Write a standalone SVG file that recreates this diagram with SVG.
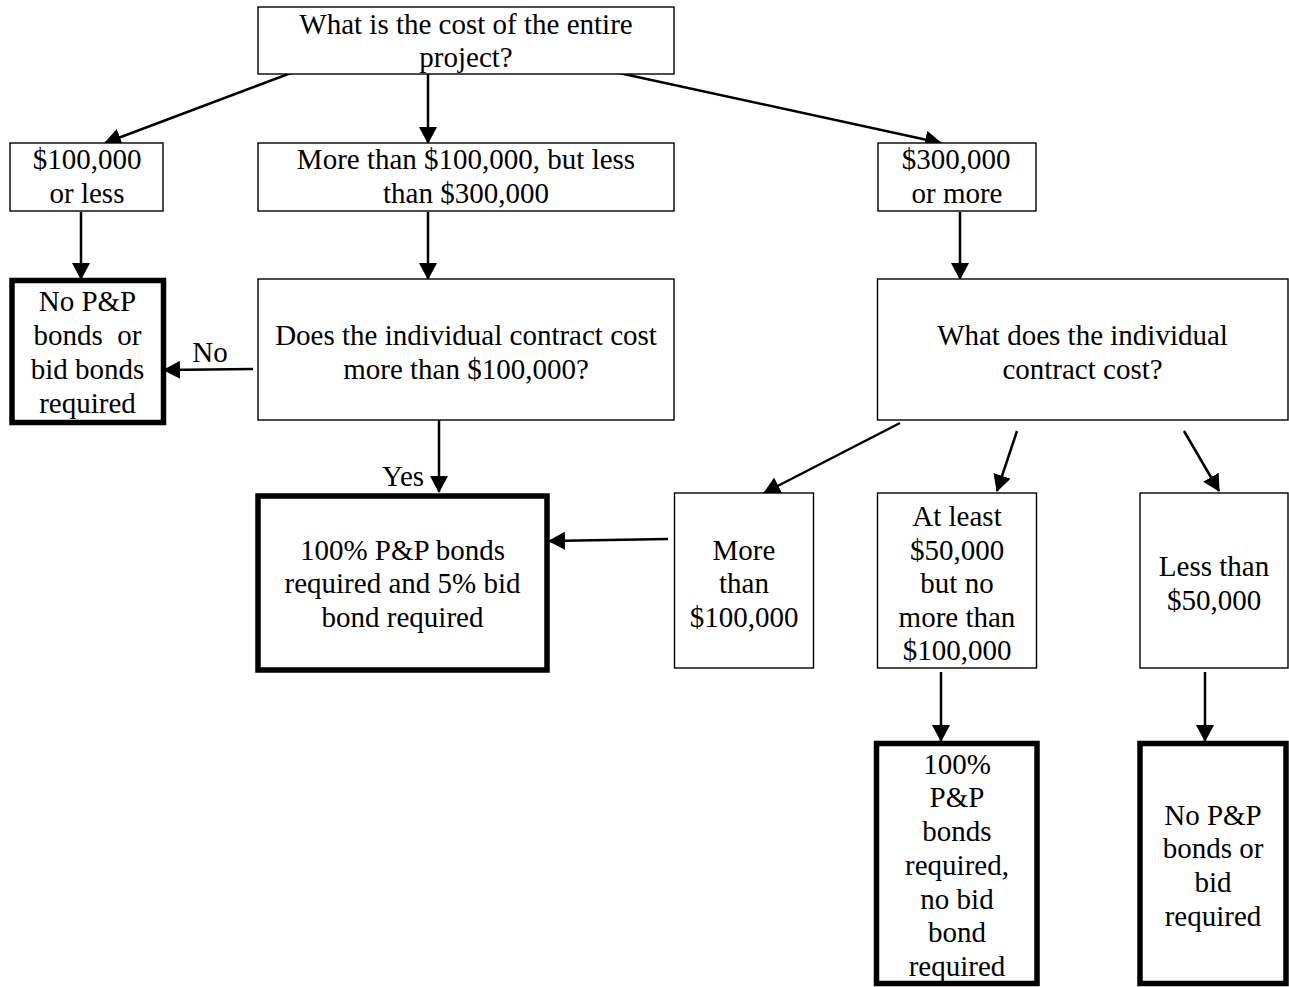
<svg xmlns="http://www.w3.org/2000/svg" width="1289" height="987" viewBox="0 0 1289 987">
<defs>
<style>
.b{fill:#fff;stroke:#000;stroke-width:1.4}
.t{fill:#fff;stroke:#000;stroke-width:5.5}
text{font-family:"Liberation Serif","Times New Roman",serif;font-size:29px;fill:#000;text-anchor:middle;white-space:pre}
.c{stroke:#000;stroke-width:2.5;fill:none;marker-end:url(#ah)}
</style>
<marker id="ah" markerWidth="17" markerHeight="18" refX="16" refY="9" orient="auto" markerUnits="userSpaceOnUse"><path d="M0,0 L17,9 L0,18 z" fill="#000"/></marker>
</defs>
<rect width="1289" height="987" fill="#fff"/>
<g id="connectors">
<path class="c" d="M291,73 L105,143"/>
<path class="c" d="M428,74 L428,143"/>
<path class="c" d="M619,73 L941,143"/>
<path class="c" d="M81,212 L81,279"/>
<path class="c" d="M428,212 L428,279"/>
<path class="c" d="M960,212 L960,279"/>
<path class="c" d="M253,369 L164,370"/>
<path class="c" d="M439,420 L439,492"/>
<path class="c" d="M668,539 L549,541"/>
<path class="c" d="M900,423 L764,493"/>
<path class="c" d="M1017,431 L997,491"/>
<path class="c" d="M1184,431 L1219,491"/>
<path class="c" d="M941,672 L941,741"/>
<path class="c" d="M1205,672 L1205,741"/>
<text x="210" y="362">No</text>
<text x="403" y="486">Yes</text>
</g>
<g id="n_top"><rect class="b" x="258" y="7" width="416" height="67"/><text x="466" y="34">What is the cost of the entire</text><text x="466" y="67">project?</text></g>
<g id="n_100less"><rect class="b" x="10" y="143" width="153" height="68"/><text x="87" y="169">$100,000</text><text x="87" y="203">or less</text></g>
<g id="n_mid"><rect class="b" x="258" y="143" width="416" height="68"/><text x="466" y="169">More than $100,000, but less</text><text x="466" y="203">than $300,000</text></g>
<g id="n_300more"><rect class="b" x="878" y="143" width="158" height="68"/><text x="956" y="169">$300,000</text><text x="957" y="203">or more</text></g>
<g id="n_nobonds1"><rect class="t" x="12" y="280.5" width="151.5" height="142"/><text x="87.5" y="311">No P&amp;P</text><text x="87.5" y="345">bonds  or</text><text x="87.5" y="379">bid bonds</text><text x="87.5" y="413">required</text></g>
<g id="n_does"><rect class="b" x="258" y="279" width="416" height="141"/><text x="466" y="345">Does the individual contract cost</text><text x="466" y="379">more than $100,000?</text></g>
<g id="n_what"><rect class="b" x="877.5" y="279" width="410.5" height="141"/><text x="1082.5" y="345">What does the individual</text><text x="1082.5" y="379">contract cost?</text></g>
<g id="n_full"><rect class="t" x="258" y="496" width="289" height="174"/><text x="402.5" y="560">100% P&amp;P bonds</text><text x="402.5" y="593">required and 5% bid</text><text x="402.5" y="627">bond required</text></g>
<g id="n_more100"><rect class="b" x="674.5" y="493" width="139" height="175"/><text x="744" y="560">More</text><text x="744" y="593">than</text><text x="744" y="627">$100,000</text></g>
<g id="n_atleast"><rect class="b" x="877.5" y="493" width="159" height="175"/><text x="957" y="526">At least</text><text x="957" y="560">$50,000</text><text x="957" y="593">but no</text><text x="957" y="627">more than</text><text x="957" y="660">$100,000</text></g>
<g id="n_less50"><rect class="b" x="1140" y="493" width="148" height="175"/><text x="1214" y="576">Less than</text><text x="1214" y="610">$50,000</text></g>
<g id="n_pp"><rect class="t" x="876.5" y="743.5" width="160.5" height="240"/><text x="957" y="774">100%</text><text x="957" y="807">P&amp;P</text><text x="957" y="841">bonds</text><text x="957" y="875">required,</text><text x="957" y="909">no bid</text><text x="957" y="942">bond</text><text x="957" y="976">required</text></g>
<g id="n_nobonds2"><rect class="t" x="1140" y="743.5" width="146" height="240"/><text x="1213" y="825">No P&amp;P</text><text x="1213" y="858">bonds or</text><text x="1213" y="892">bid</text><text x="1213" y="926">required</text></g>
</svg>
